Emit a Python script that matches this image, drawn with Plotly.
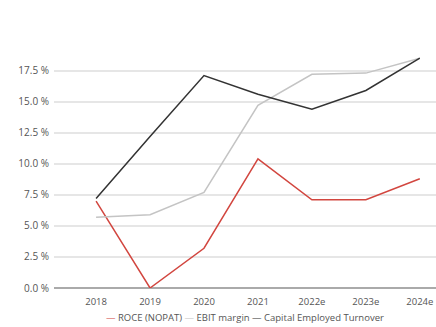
import plotly.graph_objects as go

years = ["2018", "2019", "2020", "2021", "2022e", "2023e", "2024e"]
roce = [7.0, 0.0, 3.2, 10.4, 7.1, 7.1, 8.8]
ebit_margin = [5.7, 5.9, 7.7, 14.7, 17.2, 17.3, 18.5]
ce_turnover = [7.2, 12.2, 17.1, 15.6, 14.4, 15.9, 18.5]
y_ticks = [0, 2.5, 5, 7.5, 10, 12.5, 15, 17.5]
y_tick_labels = ["0.0 %", "2.5 %", "5.0 %", "7.5 %", "10.0 %", "12.5 %", "15.0 %", "17.5 %"]

series = [
    ("ROCE (NOPAT)", roce, "#d2463f"),
    ("EBIT margin", ebit_margin, "#c4c4c4"),
    ("Capital Employed Turnover", ce_turnover, "#333333"),
]

fig = go.Figure()
for name, vals, color in series:
    fig.add_trace(go.Scatter(x=years, y=vals, mode="lines", name=name,
                             line=dict(color=color, width=1.5)))

legend_text = " ".join(
    f"<span style='color:{c}'>—</span> {n}" for n, _, c in series
)
fig.add_annotation(text=legend_text, xref="paper", yref="paper",
                   x=0.5, xanchor="center", y=-0.127, yanchor="middle",
                   showarrow=False, font=dict(size=9.5, color="#555555"))

fig.update_layout(
    width=436, height=327,
    margin=dict(l=54, r=0, t=52, b=39, autoexpand=False),
    paper_bgcolor="white", plot_bgcolor="white",
    font=dict(family="Open Sans, sans-serif", size=9, color="#555555"),
    showlegend=False,
    xaxis=dict(type="category", range=[-0.78, 6.3], showgrid=False, zeroline=False,
               showline=False, ticks="", ticklabelstandoff=6,
               tickfont=dict(size=9.5, color="#555555")),
    yaxis=dict(range=[0, 19], tickvals=y_ticks, ticktext=y_tick_labels,
               showgrid=True, gridcolor="#e6e6e6", gridwidth=1.5,
               zeroline=True, zerolinecolor="#aaaaaa", zerolinewidth=1.5,
               ticks="", ticklabelstandoff=4, tickfont=dict(size=10, color="#555555")),
)

fig.write_html("out.html")
